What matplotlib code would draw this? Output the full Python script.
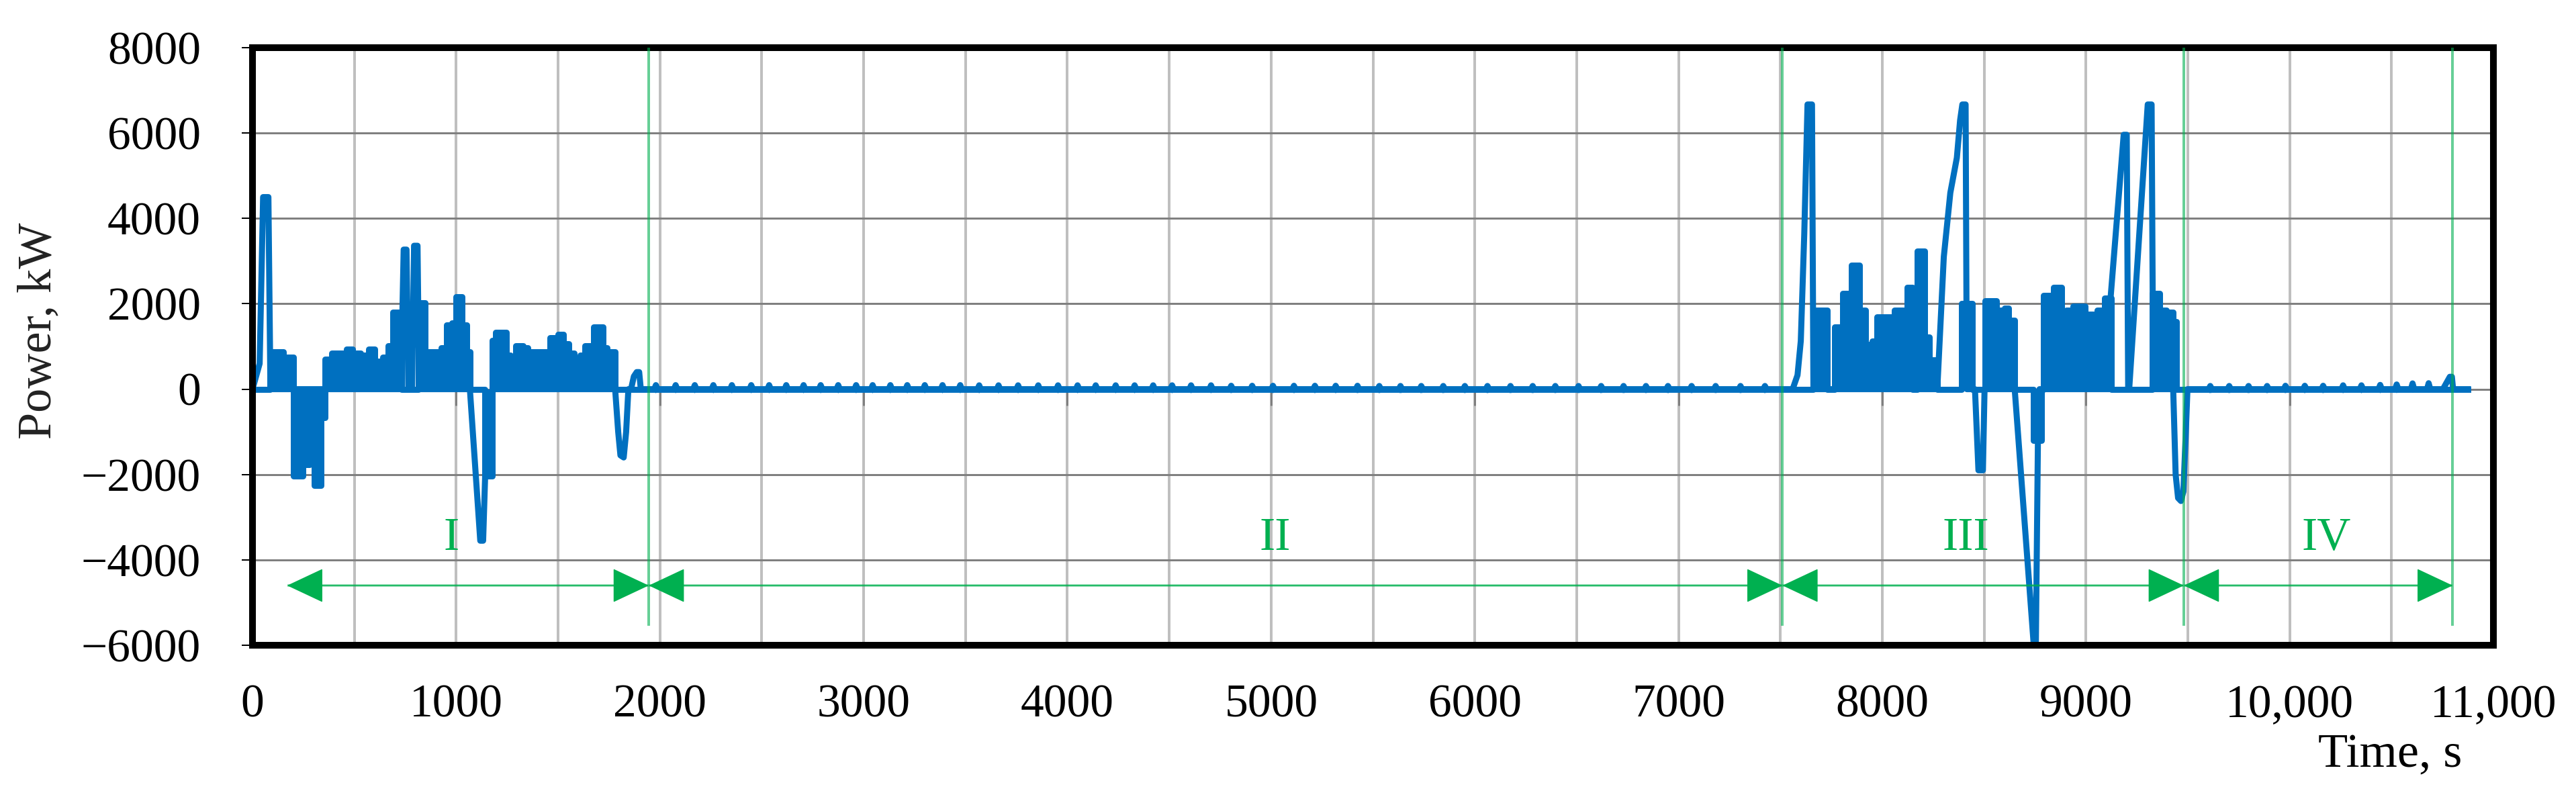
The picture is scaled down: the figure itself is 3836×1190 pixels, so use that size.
import numpy as np
import matplotlib
matplotlib.use("Agg")
import matplotlib.pyplot as plt
from matplotlib.ticker import MultipleLocator

# main trace: spikes, troughs and the zero line (time s, power kW)
t_main = [0, 35, 52, 78, 88, 728, 742, 756, 765, 783,
          793, 810, 818, 1067, 1118, 1132, 1142, 1180, 1780, 1795,
          1806, 1822, 1834, 1845, 1858, 1872, 1886, 1898, 1906, 7560,
          7584, 7600, 7617, 7633, 7655, 7662, 8270, 8302, 8334, 8366,
          8382, 8393, 8409, 8415, 8455, 8472, 8494, 8502, 8650, 8742,
          8754, 8764, 8772, 9116, 9120, 9185, 9200, 9207, 9212, 9303,
          9322, 9330, 9428, 9440, 9452, 9466, 9478, 9490, 9498, 10752,
          10786, 10796, 10802, 10875]
p_main = [0, 600, 4500, 4500, 0, 0, 3270, 3270, 0, 0,
          3360, 3360, 0, 0, -3550, -3550, -2030, 0, 0, -1000,
          -1550, -1600, -1000, 0, 0, 300, 400, 400, 0, 0,
          330, 1130, 3630, 6670, 6670, 0, 0, 3100, 4600, 5420,
          6300, 6670, 6670, 0, 0, -1900, -1900, 0, 0, -5900,
          -5900, -1200, 0, 0, 2100, 5960, 5960, 0, 0, 6670,
          6670, 0, 0, -2000, -2550, -2620, -2400, -1000, 0, 0,
          290, 290, 0, 0]

# dense on/off switching: level holds from each time to the next one
t_block = [0, 85, 153, 200, 247, 280, 303, 337, 355, 390,
           460, 490, 530, 570, 600, 640, 665, 690, 733, 815,
           847, 927, 953, 980, 1000, 1027, 1053, 1067, 1140, 1177,
           1193, 1247, 1267, 1293, 1327, 1353, 1460, 1500, 1527, 1553,
           1580, 1607, 1633, 1673, 1720, 1740, 1780,
           7660, 7730, 7767, 7805, 7848, 7887, 7919, 7952, 7973, 8058,
           8123, 8150, 8170, 8209, 8230, 8270, 8390, 8441, 8506, 8559,
           8599, 8621, 8648, 8742, 8781, 8790, 8840, 8879, 8902, 8936,
           8997, 9054, 9090, 9124, 9326, 9360, 9393, 9427, 9445, 10875]
p_block = [0, 880, 750, -2030, -1770, -1420, -2250, -660, 700, 840,
           930, 840, 800, 930, 660, 750, 1020, 1810, 0, 2030,
           880, 970, 1500, 1550, 2170, 1500, 880, 0, -2030, 1150,
           1330, 800, 130, 1020, 970, 880, 1200, 1280, 1060, 840,
           490, 800, 1020, 1460, 970, 880, 0,
           1850, 0, 1450, 2250, 2900, 1850, 1050, 1130, 1700, 1850,
           2380, 0, 3230, 1220, 690, 0, 2000, 0, 2070, 1850,
           1890, 1620, 0, -1200, 0, 2200, 2380, 1760, 1850, 1940,
           1760, 1850, 2130, 0, 2250, 1850, 1800, 1580, 0, 0]

# small pulses along zero
bump_t = [1980, 2077, 2171, 2262, 2353, 2448, 2536, 2620, 2705, 2789,
          2875, 2963, 3044, 3131, 3214, 3300, 3387, 3474, 3567, 3662,
          3758, 3857, 3954, 4050, 4139, 4237, 4330, 4421, 4514, 4607,
          4705, 4804, 4907, 5009, 5112, 5215, 5317, 5424, 5531, 5635,
          5737, 5845, 5951, 6062, 6175, 6284, 6395, 6509, 6620, 6730,
          6840, 6948, 7064, 7182, 7304, 7424,
          9610, 9703, 9798, 9889, 9979, 10074, 10164, 10262, 10352, 10444,
          10525, 10603, 10682]
bump_h = [95, 95, 95, 95, 95, 95, 95, 95, 95, 95,
          95, 95, 95, 95, 95, 95, 95, 95, 90, 90,
          90, 90, 90, 90, 90, 90, 90, 90, 90, 90,
          90, 80, 80, 80, 80, 80, 80, 80, 75, 75,
          75, 75, 75, 75, 75, 75, 75, 75, 75, 75,
          75, 75, 75, 75, 75, 75,
          75, 75, 75, 75, 80, 80, 80, 90, 90, 100,
          110, 135, 140]

# operating modes
bounds = [1945, 7510, 9480, 10800]
arrow_start = 170
phase_names = ["I", "II", "III", "IV"]
phase_x = [975, 5020, 8411, 10178]

x_ticks = [0, 1000, 2000, 3000, 4000, 5000, 6000, 7000, 8000, 9000, 10000, 11000]
x_labels = ["0", "1000", "2000", "3000", "4000", "5000", "6000", "7000",
            "8000", "9000", "10,000", "11,000"]
y_ticks = [-6000, -4000, -2000, 0, 2000, 4000, 6000, 8000]
y_labels = ["\u22126000", "\u22124000", "\u22122000", "0", "2000", "4000", "6000", "8000"]

plt.rcParams["font.family"] = ["Liberation Serif", "DejaVu Serif"]
blue = "#0070C0"
green = "#00B050"
px = 72 / 100  # points per pixel

fig = plt.figure(figsize=(38.37, 11.90), dpi=100)
ax = fig.add_axes([0.098, 0.1924, 0.8697, 0.7479])
ax.set_xlim(0, 11000)
ax.set_ylim(-6000, 8000)

ax.set_xticks(x_ticks)
ax.set_xticklabels(x_labels)
ax.set_yticks(y_ticks)
ax.set_yticklabels(y_labels)
ax.xaxis.set_minor_locator(MultipleLocator(500))
ax.tick_params(axis="x", which="both", length=0, pad=42, labelsize=50)
ax.tick_params(axis="y", length=16 * px, width=2 * px, pad=44, labelsize=50)
ax.set_axisbelow(True)
ax.grid(axis="x", which="both", color="#BFBFBF", lw=4 * px)
ax.grid(axis="y", which="major", color="#808080", lw=3 * px)
for sp in ax.spines.values():
    sp.set_linewidth(10 * px)
    sp.set_color("black")

# tick marks of the category axis at zero
ax.vlines(x_ticks, -380, 0, color="#808080", lw=3 * px, zorder=1)

ax.fill_between(t_block, p_block, 0, step="post", color=blue, lw=0, zorder=2)
ax.step(t_block, p_block, where="post", color=blue, lw=9 * px, zorder=2)
ax.plot(t_main, p_main, color=blue, lw=9 * px, zorder=2)

bt = np.array(bump_t, dtype=float)
bh = np.array(bump_h, dtype=float)
nan = np.full_like(bt, np.nan)
bx = np.column_stack([bt - 8, bt, bt + 8, nan]).ravel()
by = np.column_stack([0 * bh, bh, 0 * bh, nan]).ravel()
ax.plot(bx, by, color=blue, lw=9 * px, zorder=2)

# mode boundaries and arrows
ax.vlines(bounds, -5550, 8000, color=green, alpha=0.6, lw=4 * px, zorder=3)
arrow_y = -4600
starts = [arrow_start] + bounds[:-1]
for s, e in zip(starts, bounds):
    ax.hlines(arrow_y, s, e, color=green, alpha=0.5, lw=3.5 * px, zorder=3)
    ax.annotate("", xy=(e, arrow_y), xytext=(s, arrow_y),
                arrowprops=dict(arrowstyle="<|-|>,head_length=1,head_width=0.47",
                                mutation_scale=36, color=green, lw=1,
                                shrinkA=0, shrinkB=0), zorder=3)
for name, x in zip(phase_names, phase_x):
    ax.text(x, -3760, name, color=green, fontsize=50, ha="center", va="baseline", zorder=4)

fig.text(58 / 3837, 1 - 493 / 1190, "Power, kW", rotation=90, ha="center", va="center",
         fontsize=52, color="#222222")
fig.text(3666 / 3837, 1 - 1125 / 1190, "Time, s", ha="right", va="center", fontsize=52)

fig.savefig("out.png", dpi=100)
